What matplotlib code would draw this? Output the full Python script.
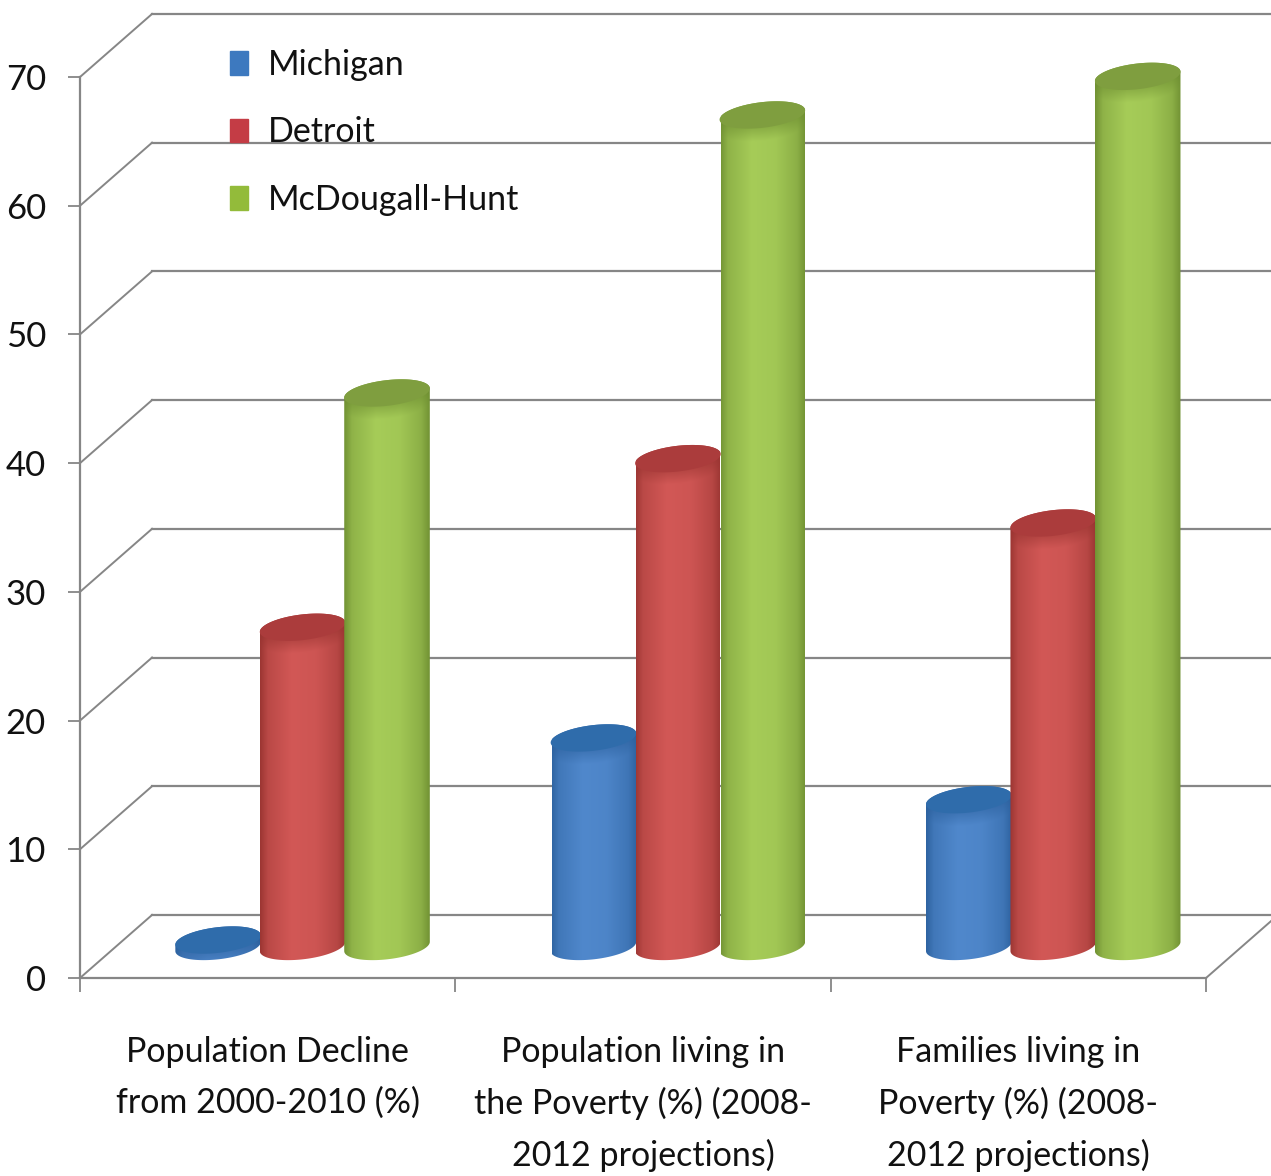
import matplotlib
matplotlib.use("Agg")
import matplotlib.pyplot as plt
import numpy as np
from matplotlib.patches import Patch, PathPatch
from matplotlib.path import Path

categories = ["Population Decline\nfrom 2000-2010 (%)",
              "Population living in\nthe Poverty (%) (2008-\n2012 projections)",
              "Families living in\nPoverty (%) (2008-\n2012 projections)"]
series_names = ["Michigan", "Detroit", "McDougall-Hunt"]
michigan = [0.5, 16.2, 11.4]
detroit = [24.8, 37.9, 32.9]
mcdougall_hunt = [43.0, 64.6, 67.6]
y_ticks = [0, 10, 20, 30, 40, 50, 60, 70]

GRID = "#868686"
TEXT = "#111111"
# edge / middle / lid colours of each cylinder
SHADES = [("#2a5f9c", "#5088cc", "#2f6cab"),
          ("#96322f", "#d25856", "#ab3c3c"),
          ("#6c8c30", "#a6cc58", "#7f9e3f")]
SWATCHES = ["#3d79bf", "#c43c45", "#93bb3a"]

# offsets of the fake 3D box, in data units
DEPTH_X = 0.192
DEPTH_Y = 4.9
BAR_POS = [0.368, 0.593, 0.818]
RX = 0.114
RY = 1.0
SHEAR = 0.36

plt.rcParams["font.family"] = ["Lato", "DejaVu Sans"]
fig = plt.figure(figsize=(12.71, 11.76), dpi=100)
ax = fig.add_axes([80 / 1271, 198 / 1176, 1126 / 1271, 901 / 1176])


def hex_rgb(c):
    return np.array(matplotlib.colors.to_rgb(c))


def ellipse(cx, cy, t):
    return cx + RX * np.cos(t), cy + RY * np.sin(t) + SHEAR * np.cos(t)


def cylinder(cx, value, colors, z):
    edge, mid, lid = colors
    y0 = DEPTH_Y / 2
    y1 = y0 + value

    # outline: front half of the base, then back over the top
    t_low = np.linspace(np.pi, 2 * np.pi, 60)
    t_top = np.linspace(0, np.pi, 60)
    xa, ya = ellipse(cx, y0, t_low)
    xb, yb = ellipse(cx, y1, t_top)
    outline = np.column_stack([np.r_[xa, xb], np.r_[ya, yb]])
    clip = PathPatch(Path(outline), transform=ax.transData, fc="none", ec="none")

    # side shading, darker at the rim and just under the lid
    xs = np.linspace(cx - RX, cx + RX, 120)
    ys = np.linspace(y0 - 1.6, y1 + 1.6, max(int((value + 3.2) * 13), 4))
    u = (xs - cx) / RX
    across = np.interp(u, [-1, -0.82, -0.25, 0.3, 0.8, 1], [0.1, 0.6, 1, 0.92, 0.55, 0.1])
    under_lid = y1 - RY * np.sqrt(1 - u ** 2) + SHEAR * u
    img = np.zeros((len(ys), len(xs), 3))
    for j, yy in enumerate(ys):
        near = np.clip((under_lid - yy) / 1.0, 0, 1)
        k = (across * (0.55 + 0.45 * near))[:, None]
        img[j] = hex_rgb(edge) * (1 - k) + hex_rgb(mid) * k
    im = ax.imshow(img, extent=[xs[0], xs[-1], ys[0], ys[-1]], origin="lower",
                   aspect="auto", interpolation="bilinear", zorder=z)
    im.set_clip_path(clip)
    im.set_clip_box(fig.bbox)

    t = np.linspace(0, 2 * np.pi, 120)
    xl, yl = ellipse(cx, y1, t)
    ax.fill(xl, yl, color=lid, lw=0, zorder=z + 0.1, clip_on=False)


# walls and floor lines
for v in y_ticks:
    ax.plot([0, DEPTH_X], [v, v + DEPTH_Y], color=GRID, lw=1.4, zorder=1, clip_on=False)
    ax.plot([DEPTH_X, 3 + DEPTH_X], [v + DEPTH_Y, v + DEPTH_Y], color=GRID, lw=1.6,
            zorder=1, clip_on=False)
ax.plot([3, 3 + DEPTH_X], [0, DEPTH_Y], color=GRID, lw=1.4, zorder=1, clip_on=False)

z = 3
for cat in range(3):
    for pos, vals, colors in zip(BAR_POS, [michigan, detroit, mcdougall_hunt], SHADES):
        cylinder(cat + pos, vals[cat], colors, z)
        z += 1

ax.set_xlim(0, 3)
ax.set_ylim(0, 70)
ax.set_facecolor("none")
for side in ["top", "right"]:
    ax.spines[side].set_visible(False)
for side in ["left", "bottom"]:
    ax.spines[side].set_color(GRID)
    ax.spines[side].set_linewidth(1.6)

ax.set_yticks(y_ticks)
ax.tick_params(axis="y", length=9, width=1.3, color=GRID, labelsize=25, labelcolor=TEXT, pad=15.5)
ax.set_xticks([0, 1, 2, 3])
ax.set_xticklabels([])
ax.tick_params(axis="x", which="major", length=10, width=1.3, color=GRID)
ax.set_xticks([0.5, 1.5, 2.5], minor=True)
ax.set_xticklabels(categories, minor=True, linespacing=1.71)
ax.tick_params(axis="x", which="minor", length=0, labelsize=24.5, labelcolor=TEXT, pad=41.5)

handles = [Patch(fc=c, ec=c) for c in SWATCHES]
leg = ax.legend(handles, series_names, loc="upper left", bbox_to_anchor=(0.133, 1.031),
                frameon=False, fontsize=24.5, handlelength=0.54, handleheight=0.7,
                handletextpad=0.58, labelspacing=1.04, borderpad=0, borderaxespad=0,
                labelcolor=TEXT)
leg.set_zorder(30)

fig.savefig("out.png", dpi=100)
